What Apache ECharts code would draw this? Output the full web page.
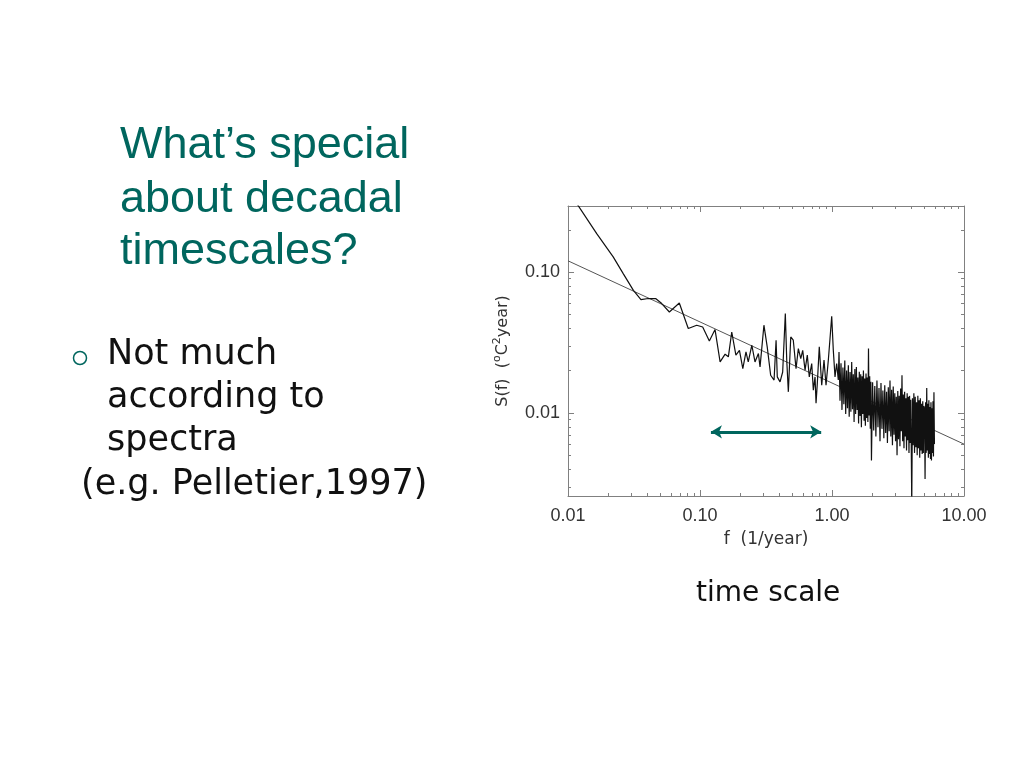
<!DOCTYPE html>
<html><head><meta charset="utf-8">
<script src="https://cdn.jsdelivr.net/npm/echarts@6/dist/echarts.min.js"></script>
<style>html,body{margin:0;padding:0;background:#fff}#c{width:1024px;height:768px}</style>
</head><body><div id="c"></div>
<script>
// spectrum frequencies (1/year) and power S(f)
const freq = [
0.0115,0.0165,0.0220,0.0262,0.0313,
0.0357,0.0406,0.0461,0.0513,0.0586,0.0697,0.0815,0.0944,0.1048,0.1177,
0.130,0.142,0.155,0.164,0.174,0.187,0.199,0.211,0.223,0.232,0.247,0.261,0.277,0.285,
0.305,0.323,0.343,0.364,0.377,0.385,0.404,0.423,0.443,0.454,0.467,0.487,0.509,0.534,
0.556,0.580,0.600,0.625,0.650,0.673,0.702,0.722,0.744,0.757,0.774,0.801,0.836,0.870,
0.901,0.938,0.966,0.995,1.023,1.054,1.085,1.116,
1.13,1.15,1.17,1.19,1.21,1.23,1.25,1.27,1.29,1.31,1.33,1.35,1.37,1.39,1.41,1.43,1.45,1.47,
1.49,1.51,1.53,1.55,1.57,1.59,1.61,1.63,1.65,1.67,1.69,1.71,1.73,1.75,1.77,1.79,1.81,1.83,
1.85,1.87,1.89,1.91,1.93,1.95,1.97,1.99,
2.03,2.07,2.11,2.15,2.19,2.23,2.27,2.31,2.35,2.39,2.43,2.47,2.51,2.55,2.59,2.63,2.67,2.71,
2.75,2.79,2.83,2.87,2.91,2.95,2.99,3.03,3.07,3.11,3.15,3.19,3.23,3.27,3.31,3.35,3.39,3.43,
3.47,3.51,3.55,3.59,3.63,3.67,3.71,3.75,3.79,3.83,3.87,3.91,3.95,3.99,
4.02,4.07,4.12,4.17,4.22,4.27,4.32,4.37,4.42,4.47,4.52,4.57,4.62,4.67,4.72,4.77,4.82,4.87,
4.92,4.97,5.02,5.07,5.12,5.17,5.22,5.27,5.32,5.37,5.42,5.47,5.52,5.57,5.62,5.67,5.72,5.77,
5.82,5.87,5.92,5.97
];
const power = [
0.312,0.187,0.128,0.0974,0.0741,
0.0637,0.0648,0.0648,0.0597,0.0520,0.0603,0.0397,0.0419,0.0407,0.0324,
0.0390,0.0230,0.0261,0.0250,0.0375,0.0257,0.0278,0.0206,0.0271,0.0230,0.0302,0.0230,0.0264,0.0212,
0.0419,0.0294,0.0185,0.0171,0.0328,0.0180,0.0166,0.0195,0.0507,0.0237,0.0141,0.0346,0.0328,0.0206,
0.0286,0.0243,0.0278,0.0201,0.0257,0.0180,0.0224,0.0145,0.0180,0.0117,0.0162,0.0294,0.0157,0.0237,
0.0157,0.0237,0.0337,0.0485,0.0278,0.0180,0.0224,0.0171,
0.0270,0.0122,0.0225,0.0105,0.0210,0.0115,0.0235,0.0098,0.0200,0.0108,0.0218,0.0094,0.0195,0.0102,0.0230,0.0106,0.0188,0.0086,
0.0205,0.0098,0.0212,0.0105,0.0178,0.0084,0.0196,0.0095,0.0188,0.0079,0.0182,0.0098,0.0200,0.0088,0.0175,0.0081,0.0190,0.0092,
0.0178,0.0086,0.0286,0.0096,0.0182,0.0077,0.0166,0.0046,
0.0165,0.0075,0.0155,0.0068,0.0170,0.0079,0.0150,0.0063,0.0163,0.0077,0.0144,0.0066,0.0157,0.0072,0.0141,0.0061,0.0152,0.0074,
0.0170,0.0068,0.0146,0.0059,0.0154,0.0070,0.0138,0.0063,0.0130,0.0050,0.0143,0.0065,0.0132,0.0058,0.0149,0.0074,0.0185,0.0063,
0.0135,0.0056,0.0141,0.0068,0.0127,0.0054,0.0138,0.0064,0.0130,0.0052,0.0132,0.0061,0.0124,0.0051,
0.0022,0.0127,0.0059,0.0138,0.0052,0.0130,0.0057,0.0119,0.0050,0.0132,0.0056,0.0123,0.0048,0.0127,0.0054,0.0116,0.0051,0.0121,
0.0052,0.0112,0.0108,0.0034,0.0119,0.0052,0.0150,0.0054,0.0116,0.0048,0.0123,0.0051,0.0110,0.0047,0.0119,0.0046,0.0108,0.0052,
0.0121,0.0049,0.0140,0.0060
];
// power-law fit line end points
const fitFreq = [0.01, 10];
const fitPower = [0.12, 0.006];
// axis ranges
const xRange = [0.01, 10];
const yRange = [0.00257, 0.294];
// minor tick values
const xMinorTicks = [0.02,0.03,0.04,0.05,0.06,0.07,0.08,0.09,0.2,0.3,0.4,0.5,0.6,0.7,0.8,0.9,2,3,4,5,6,7,8,9];
const yMinorTicks = [0.003,0.004,0.005,0.006,0.007,0.008,0.009,0.02,0.03,0.04,0.05,0.06,0.07,0.08,0.09,0.2];
// "decadal" arrow
const arrowFreq = [0.121, 0.828];
const arrowPower = 0.00733;

const teal = '#00665e';
const axisColor = '#808080';
const labelColor = '#333';

const chart = echarts.init(document.getElementById('c'), null, {renderer: 'canvas'});

function decadeLabel(v) {
  const l = Math.log10(v);
  return Math.abs(l - Math.round(l)) < 1e-6 ? v.toFixed(2) : '';
}

const baseAxis = {
  type: 'log', logBase: 10,
  axisLine: {show: true, lineStyle: {color: axisColor, width: 1}},
  axisTick: {show: true, inside: true, length: 6, lineStyle: {color: axisColor}},
  splitLine: {show: false},
  minorTick: {show: false}
};

const option = {
  animation: false,
  backgroundColor: '#fff',
  grid: {left: 568, top: 206, width: 396, height: 290, containLabel: false},
  xAxis: [
    Object.assign({}, baseAxis, {
      position: 'bottom', min: xRange[0], max: xRange[1],
      axisLabel: {formatter: decadeLabel, fontFamily: 'Liberation Sans', fontSize: 18, color: labelColor, margin: 11},
      name: 'f  (1/year)', nameLocation: 'middle', nameGap: 35,
      nameTextStyle: {fontFamily: 'DejaVu Sans', fontSize: 17, color: labelColor}
    }),
    Object.assign({}, baseAxis, {
      position: 'top', min: xRange[0], max: xRange[1], axisLabel: {show: false}
    })
  ],
  yAxis: [
    Object.assign({}, baseAxis, {
      position: 'left', min: yRange[0], max: yRange[1],
      axisLabel: {formatter: decadeLabel, fontFamily: 'Liberation Sans', fontSize: 18, color: labelColor, margin: 8},
      name: 'S(f)  ({sup|o}C{sup|2}year)', nameLocation: 'middle', nameGap: 55, nameRotate: 90,
      nameTextStyle: {
        fontFamily: 'DejaVu Sans', fontSize: 16, color: labelColor,
        rich: {sup: {fontFamily: 'DejaVu Sans', fontSize: 11, color: labelColor, padding: [0, 0, 10, 0]}}
      }
    }),
    Object.assign({}, baseAxis, {
      position: 'right', min: yRange[0], max: yRange[1], axisLabel: {show: false}
    })
  ],
  series: [
    {
      type: 'line', name: 'fit', showSymbol: false, silent: true,
      data: fitFreq.map((f, i) => [f, fitPower[i]]),
      lineStyle: {color: '#555', width: 1}, z: 2
    },
    {
      type: 'line', name: 'spectrum', showSymbol: false, silent: true, clip: true,
      data: freq.map((f, i) => [f, power[i]]),
      lineStyle: {color: '#111', width: 1.2}, z: 3,
      markLine: {
        silent: true, symbol: ['arrow', 'arrow'], symbolSize: [10, 11],
        label: {show: false},
        lineStyle: {color: teal, width: 3, type: 'solid'},
        data: [[{coord: [arrowFreq[0], arrowPower]}, {coord: [arrowFreq[1], arrowPower]}]]
      }
    },
    {
      type: 'custom', name: 'xMinor', silent: true, clip: false,
      data: xMinorTicks.map(v => [v, 0.01]),
      renderItem: function (params, api) {
        const cs = params.coordSys;
        const px = Math.round(api.coord([api.value(0), api.value(1)])[0]) + 0.5;
        const st = {stroke: axisColor, lineWidth: 1};
        return {type: 'group', children: [
          {type: 'line', shape: {x1: px, y1: cs.y + cs.height, x2: px, y2: cs.y + cs.height - 3}, style: st},
          {type: 'line', shape: {x1: px, y1: cs.y, x2: px, y2: cs.y + 3}, style: st}
        ]};
      }
    },
    {
      type: 'custom', name: 'yMinor', silent: true, clip: false,
      data: yMinorTicks.map(v => [0.1, v]),
      renderItem: function (params, api) {
        const cs = params.coordSys;
        const py = Math.round(api.coord([api.value(0), api.value(1)])[1]) + 0.5;
        const st = {stroke: axisColor, lineWidth: 1};
        return {type: 'group', children: [
          {type: 'line', shape: {x1: cs.x, y1: py, x2: cs.x + 3, y2: py}, style: st},
          {type: 'line', shape: {x1: cs.x + cs.width, y1: py, x2: cs.x + cs.width - 3, y2: py}, style: st}
        ]};
      }
    }
  ],
  graphic: [
    {type: 'text', x: 120, y: 146, style: {text: 'What\u2019s special', font: '45px "Liberation Sans"', fill: teal, verticalAlign: 'middle'}},
    {type: 'text', x: 120, y: 200, style: {text: 'about decadal', font: '45px "Liberation Sans"', fill: teal, verticalAlign: 'middle'}},
    {type: 'text', x: 120, y: 252, style: {text: 'timescales?', font: '45px "Liberation Sans"', fill: teal, verticalAlign: 'middle'}},
    {type: 'circle', shape: {cx: 80, cy: 358, r: 6.5}, style: {fill: 'none', stroke: teal, lineWidth: 1.5}},
    {type: 'text', x: 107, y: 355, style: {text: 'Not much', font: '35px "DejaVu Sans"', fill: '#111', verticalAlign: 'middle'}},
    {type: 'text', x: 107, y: 398, style: {text: 'according to', font: '35px "DejaVu Sans"', fill: '#111', verticalAlign: 'middle'}},
    {type: 'text', x: 107, y: 441, style: {text: 'spectra', font: '35px "DejaVu Sans"', fill: '#111', verticalAlign: 'middle'}},
    {type: 'text', x: 81, y: 485, style: {text: '(e.g. Pelletier,1997)', font: '35px "DejaVu Sans"', fill: '#111', verticalAlign: 'middle'}},
    {type: 'text', x: 696, y: 594, style: {text: 'time scale', font: '28px "DejaVu Sans"', fill: '#111', verticalAlign: 'middle'}}
  ]
};
chart.setOption(option);
</script>
</body></html>
